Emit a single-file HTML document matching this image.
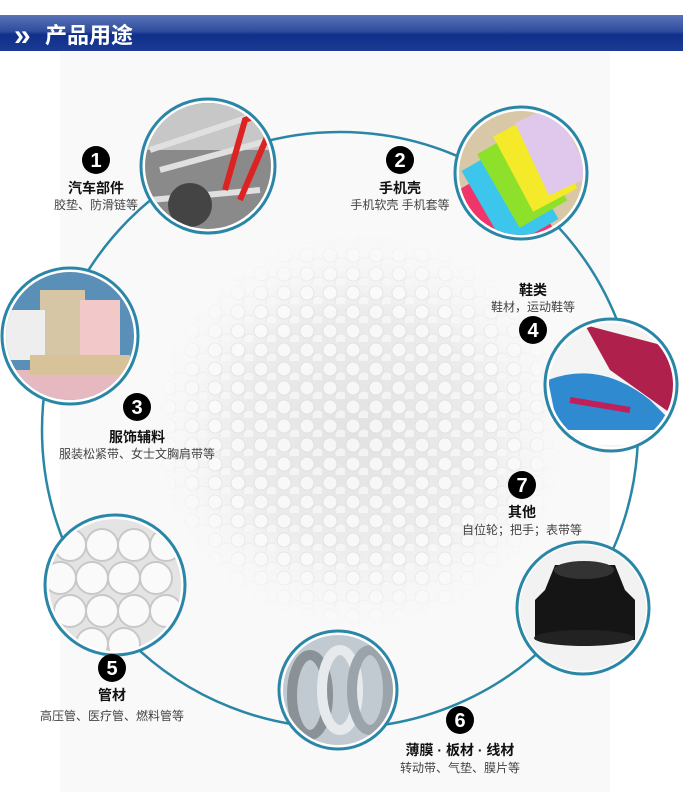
<!DOCTYPE html>
<html><head><meta charset="utf-8"><style>
html,body{margin:0;padding:0;background:#fff}
svg{display:block}
text{font-family:"Liberation Sans","Noto Sans CJK SC",sans-serif}
</style></head><body>
<svg width="683" height="800" viewBox="0 0 683 800" xmlns="http://www.w3.org/2000/svg">
<defs>
<linearGradient id="hdr" x1="0" y1="0" x2="0" y2="1">
<stop offset="0" stop-color="#5a74b8"/><stop offset="0.45" stop-color="#2f4c9e"/><stop offset="0.55" stop-color="#0f2f8a"/><stop offset="1" stop-color="#1a3a94"/></linearGradient>
<radialGradient id="pel" cx="0.5" cy="0.5" r="0.5">
<stop offset="0" stop-color="#e2e2e2"/><stop offset="0.6" stop-color="#ececec"/><stop offset="1" stop-color="#f8f8f8" stop-opacity="0"/></radialGradient>
<radialGradient id="pm" cx="0.5" cy="0.5" r="0.5">
<stop offset="0" stop-color="#fff"/><stop offset="0.7" stop-color="#fff"/><stop offset="1" stop-color="#000"/></radialGradient>
<mask id="pmask"><ellipse cx="360" cy="430" rx="210" ry="200" fill="url(#pm)"/></mask>
<pattern id="beads" width="23" height="19" patternUnits="userSpaceOnUse">
<circle cx="8" cy="8" r="7" fill="#fcfcfc" stroke="#dadada" stroke-width="0.8"/>
<circle cx="19" cy="17" r="6" fill="#f8f8f8" stroke="#e0e0e0" stroke-width="0.8"/>
</pattern>
<clipPath id="c1"><circle cx="208" cy="166" r="63"/></clipPath>
<clipPath id="c2"><circle cx="521" cy="173" r="62"/></clipPath>
<clipPath id="c3"><circle cx="70" cy="336" r="64"/></clipPath>
<clipPath id="c4"><circle cx="611" cy="385" r="62"/></clipPath>
<clipPath id="c5"><circle cx="115" cy="585" r="66"/></clipPath>
<clipPath id="c6"><circle cx="338" cy="690" r="55"/></clipPath>
<clipPath id="c7"><circle cx="583" cy="608" r="63"/></clipPath>
</defs>
<rect width="683" height="800" fill="#fff"/>
<rect x="60" y="52" width="550" height="740" fill="#f9f9f9"/>
<rect x="0" y="15" width="683" height="36" fill="url(#hdr)"/>
<text x="14" y="45" font-size="30" font-weight="bold" fill="#fff">»</text>
<text x="45" y="43" font-size="22" font-weight="bold" fill="#fff">产品用途</text>

<ellipse cx="360" cy="430" rx="210" ry="200" fill="url(#pel)"/>
<g mask="url(#pmask)"><rect x="150" y="230" width="420" height="400" fill="url(#beads)" opacity="0.75"/></g>

<circle cx="340" cy="430" r="298" fill="none" stroke="#2a86a6" stroke-width="2.5"/>

<circle cx="208" cy="166" r="67" fill="#fff" stroke="#2a86a6" stroke-width="3"/>
<g clip-path="url(#c1)"><rect x="140" y="100" width="140" height="140" fill="#8a8a8a"/>
<rect x="140" y="100" width="140" height="50" fill="#c7c7c7"/>
<path d="M150 150 L270 110 M160 170 L270 140 M150 200 L260 190" stroke="#e0e0e0" stroke-width="6"/>
<path d="M225 190 L245 120 L270 110 M240 200 L270 130" stroke="#d22" stroke-width="6" fill="none"/>
<circle cx="190" cy="205" r="22" fill="#444"/></g>
<circle cx="521" cy="173" r="66" fill="#fff" stroke="#2a86a6" stroke-width="3"/>
<g clip-path="url(#c2)"><rect x="455" y="105" width="135" height="135" fill="#d9c8a8"/>
<rect x="470" y="170" width="70" height="90" fill="#f0356a" transform="rotate(-30 505 215)"/>
<rect x="480" y="150" width="60" height="90" fill="#3cc6ec" transform="rotate(-30 510 195)"/>
<rect x="495" y="135" width="55" height="85" fill="#8ee12a" transform="rotate(-30 522 178)"/>
<rect x="510" y="120" width="50" height="85" fill="#f4ea2a" transform="rotate(-28 535 162)"/>
<rect x="530" y="110" width="45" height="80" fill="#e0c8ec" transform="rotate(-25 552 150)"/></g>
<circle cx="70" cy="336" r="68" fill="#fff" stroke="#2a86a6" stroke-width="3"/>
<g clip-path="url(#c3)"><rect x="0" y="268" width="140" height="140" fill="#5a8fb8"/>
<rect x="40" y="290" width="45" height="75" fill="#d6c6a6"/><rect x="80" y="300" width="40" height="60" fill="#f2c8c8"/>
<rect x="5" y="310" width="40" height="50" fill="#eee"/><rect x="0" y="370" width="140" height="40" fill="#e6b8c0"/>
<rect x="30" y="355" width="100" height="20" fill="#d8c29a"/></g>
<circle cx="611" cy="385" r="66" fill="#fff" stroke="#2a86a6" stroke-width="3"/>
<g clip-path="url(#c4)"><rect x="545" y="320" width="135" height="135" fill="#f4f4f4"/>
<path d="M585 325 L680 350 L680 420 L610 370 Z" fill="#b0204c"/>
<path d="M548 380 Q600 360 650 400 L680 430 L680 445 L560 440 Z" fill="#2f8ad0"/>
<path d="M570 400 L630 410" stroke="#c0205a" stroke-width="6"/>
<rect x="545" y="430" width="135" height="15" fill="#fff"/></g>
<circle cx="115" cy="585" r="70" fill="#fff" stroke="#2a86a6" stroke-width="3"/>
<g clip-path="url(#c5)"><rect x="45" y="515" width="140" height="140" fill="#e4e4e4"/>
<g fill="#fafafa" stroke="#c8c8c8" stroke-width="2">
<circle cx="70" cy="545" r="16"/><circle cx="102" cy="545" r="16"/><circle cx="134" cy="545" r="16"/><circle cx="166" cy="545" r="16"/>
<circle cx="60" cy="578" r="16"/><circle cx="92" cy="578" r="16"/><circle cx="124" cy="578" r="16"/><circle cx="156" cy="578" r="16"/>
<circle cx="70" cy="611" r="16"/><circle cx="102" cy="611" r="16"/><circle cx="134" cy="611" r="16"/><circle cx="166" cy="611" r="16"/>
<circle cx="92" cy="644" r="16"/><circle cx="124" cy="644" r="16"/></g></g>
<circle cx="338" cy="690" r="59" fill="#fff" stroke="#2a86a6" stroke-width="3"/>
<g clip-path="url(#c6)"><rect x="280" y="630" width="120" height="120" fill="#c0cad0"/>
<ellipse cx="310" cy="695" rx="18" ry="40" fill="none" stroke="#8a9298" stroke-width="10"/>
<ellipse cx="340" cy="690" rx="18" ry="40" fill="none" stroke="#e6eaec" stroke-width="10"/>
<ellipse cx="370" cy="690" rx="18" ry="40" fill="none" stroke="#9aa4aa" stroke-width="10"/></g>
<circle cx="583" cy="608" r="66" fill="#fff" stroke="#2a86a6" stroke-width="3"/>
<g clip-path="url(#c7)"><rect x="515" y="540" width="140" height="140" fill="#f2f2f2"/>
<path d="M555 565 L615 565 L625 590 L635 600 L635 640 L535 640 L535 600 L545 590 Z" fill="#151515"/>
<ellipse cx="584" cy="570" rx="30" ry="9" fill="#333"/><ellipse cx="584" cy="638" rx="50" ry="8" fill="#222"/></g>

<g fill="#000">
<circle cx="96" cy="160" r="14"/><circle cx="400" cy="160" r="14"/><circle cx="137" cy="407" r="14"/>
<circle cx="533" cy="330" r="14"/><circle cx="112" cy="668" r="14"/><circle cx="460" cy="720" r="14"/><circle cx="522" cy="485" r="14"/>
</g>
<g fill="#fff" font-size="20" font-weight="bold" text-anchor="middle" font-family="Liberation Serif,serif">
<text x="96" y="167">1</text><text x="400" y="167">2</text><text x="137" y="414">3</text><text x="533" y="337">4</text>
<text x="112" y="675">5</text><text x="460" y="727">6</text><text x="522" y="492">7</text></g>
<g text-anchor="middle" font-weight="bold" font-size="14" fill="#111">
<text x="96" y="193">汽车部件</text><text x="400" y="193">手机壳</text><text x="137" y="442">服饰辅料</text>
<text x="533" y="295">鞋类</text><text x="112" y="700">管材</text><text x="460" y="755">薄膜 · 板材 · 线材</text><text x="522" y="517">其他</text></g>
<g text-anchor="middle" font-size="12" fill="#444">
<text x="96" y="209">胶垫、防滑链等</text><text x="400" y="209">手机软壳 手机套等</text><text x="137" y="458">服装松紧带、女士文胸肩带等</text>
<text x="533" y="311">鞋材，运动鞋等</text><text x="112" y="720">高压管、医疗管、燃料管等</text><text x="460" y="772">转动带、气垫、膜片等</text><text x="522" y="534">自位轮；把手；表带等</text></g>
</svg>
</body></html>
